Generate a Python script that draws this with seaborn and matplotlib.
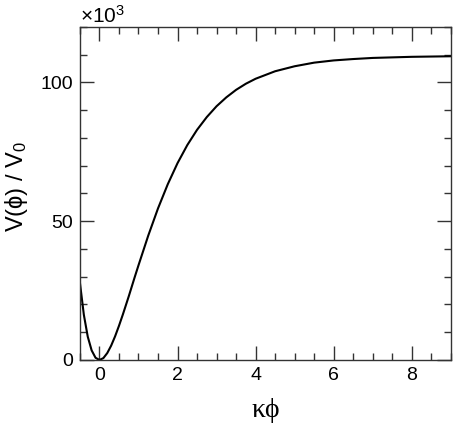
import numpy as np
import pandas as pd
import seaborn as sns
import matplotlib
matplotlib.use('Agg')
import matplotlib.pyplot as plt
from matplotlib.ticker import MultipleLocator

# Values (V / V0 in units of 10^3)
kphi = [-0.5, -0.4, -0.3, -0.2, -0.1, 0.0, 0.1, 0.2, 0.3, 0.4, 0.5, 0.6,
        0.75, 0.9, 1.0, 1.25, 1.5, 1.75, 2.0, 2.25, 2.5, 2.75, 3.0, 3.25,
        3.5, 3.75, 4.0, 4.5, 5.0, 5.5, 6.0, 6.5, 7.0, 7.5, 8.0, 8.5, 9.0]
v_over_v0 = [27.8, 16.3, 8.4, 3.45, 0.79, 0.0, 0.67, 2.49, 5.17, 8.5, 12.3, 16.4,
             22.9, 29.7, 34.1, 44.8, 54.6, 63.3, 70.9, 77.4, 82.9, 87.5, 91.4, 94.6,
             97.3, 99.5, 101.3, 104.0, 105.8, 107.1, 107.9, 108.4, 108.8, 109.0, 109.2, 109.3, 109.4]

df = pd.DataFrame({"kphi": kphi, "V": v_over_v0})

sns.set_style("ticks", {"text.color": "black", "axes.labelcolor": "black",
                        "xtick.color": "black", "ytick.color": "black"})
plt.rcParams['font.family'] = ['Liberation Sans', 'DejaVu Sans']
plt.rcParams['mathtext.fontset'] = 'custom'
plt.rcParams['mathtext.rm'] = 'Liberation Sans'
plt.rcParams['mathtext.it'] = 'Liberation Sans:italic'

fig = plt.figure(figsize=(4.73, 4.26), dpi=100)
ax = fig.add_axes([0.169, 0.155, 0.784, 0.782])

sns.lineplot(data=df, x="kphi", y="V", color="black", linewidth=1.5, ax=ax)

ax.set_xlim(-0.5, 9)
ax.set_ylim(0, 120)
ax.xaxis.set_major_locator(MultipleLocator(2))
ax.xaxis.set_minor_locator(MultipleLocator(0.5))
ax.yaxis.set_major_locator(MultipleLocator(50))
ax.yaxis.set_minor_locator(MultipleLocator(10))
ax.tick_params(which='both', direction='in', top=True, right=True,
               labelsize=14, width=1, color='#333333', labelcolor='black', pad=5)
ax.tick_params(which='major', length=10)
ax.tick_params(which='minor', length=5)
for s in ax.spines.values():
    s.set_linewidth(1)
    s.set_color('#333333')

ax.set_xlabel("κϕ", fontsize=20, family=['Liberation Serif', 'DejaVu Serif'],
              labelpad=10, color='black')
ax.set_ylabel("V(ϕ) / V$_{0}$", fontsize=17, color='black', va='center')
ax.yaxis.set_label_coords(-0.17, 0.52)
ax.text(0.0, 1.0, r"$\times$10$^{3}$", transform=ax.transAxes,
        fontsize=15, va='bottom', ha='left', color='black')

plt.savefig("out.png", dpi=100)
